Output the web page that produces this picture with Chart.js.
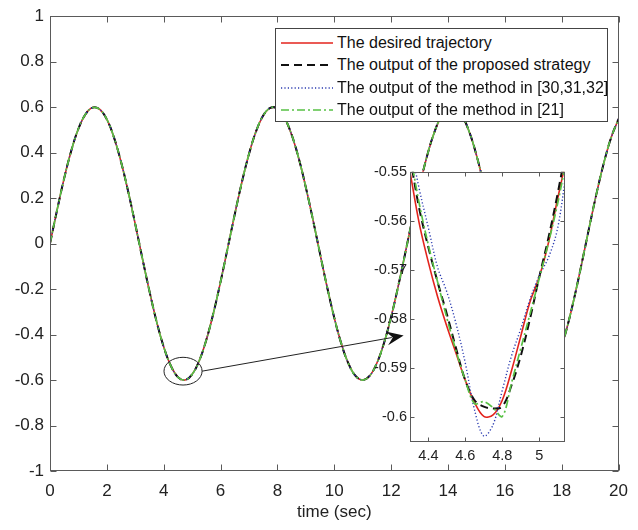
<!DOCTYPE html>
<html>
<head>
<meta charset="utf-8">
<script src="https://cdn.jsdelivr.net/npm/chart.js@4.4.1/dist/chart.umd.min.js"></script>
<style>
html, body { margin: 0; padding: 0; background: #fff; }
#wrap { position: relative; width: 638px; height: 530px; }
#mainChart { position: absolute; left: 0; top: 0; }
#zoomChart { position: absolute; left: 355px; top: 160px; }
#legend { position: absolute; left: 275px; top: 28px; width: 331px; height: 92px; border: 1px solid #444; background: #fff;
  font-family: Arial, "Liberation Sans", sans-serif; font-size: 16px; color: #111; }
.row { position: absolute; left: 0; height: 22px; line-height: 22px; white-space: nowrap; }
.row svg { position: absolute; left: 5px; top: 0; }
.row span { position: absolute; left: 61px; }
</style>
</head>
<body>
<div id="wrap">
  <canvas id="mainChart" width="638" height="530"></canvas>
  <canvas id="zoomChart" width="215" height="312"></canvas>
  <div id="legend"></div>
</div>
<script>
// --- data ---
const mainTime = [0,0.25,0.5,0.75,1,1.25,1.5,1.75,2,2.25,2.5,2.75,3,3.25,3.5,3.75,4,4.25,4.5,4.75,
  5,5.25,5.5,5.75,6,6.25,6.5,6.75,7,7.25,7.5,7.75,8,8.25,8.5,8.75,9,9.25,9.5,9.75,
  10,10.25,10.5,10.75,11,11.25,11.5,11.75,12,12.25,12.5,12.75,13,13.25,13.5,13.75,14,14.25,14.5,14.75,
  15,15.25,15.5,15.75,16,16.25,16.5,16.75,17,17.25,17.5,17.75,18,18.25,18.5,18.75,19,19.25,19.5,19.75,20];
// at full scale the four curves lie on top of each other
const mainValues = [0,0.148,0.288,0.409,0.505,0.569,0.598,0.590,0.546,0.467,
  0.359,0.229,0.085,-0.065,-0.210,-0.343,-0.454,-0.537,-0.587,-0.600,
  -0.575,-0.515,-0.423,-0.305,-0.168,-0.020,0.129,0.270,0.394,0.494,
  0.563,0.597,0.594,0.553,0.479,0.375,0.247,0.105,-0.045,-0.192,
  -0.326,-0.441,-0.528,-0.582,-0.600,-0.581,-0.525,-0.437,-0.322,-0.187,
  -0.040,0.110,0.252,0.379,0.482,0.556,0.594,0.596,0.561,0.491,
  0.390,0.265,0.124,-0.025,-0.173,-0.309,-0.427,-0.518,-0.577,-0.600,
  -0.585,-0.535,-0.451,-0.339,-0.206,-0.060,0.090,0.234,0.363,0.470,0.548];
const xTicks = [0,2,4,6,8,10,12,14,16,18,20];
const yTicks = [-1,-0.8,-0.6,-0.4,-0.2,0,0.2,0.4,0.6,0.8,1];

// zoomed window around the first trough
const zoomTime = [4.30,4.35,4.40,4.45,4.50,4.55,4.60,4.65,4.70,4.75,4.80,4.85,4.90,4.95,5.00,5.05,5.10,5.15];
const zoomDesired  = [-0.5500,-0.5605,-0.5685,-0.5755,-0.5815,-0.5870,-0.5925,-0.5970,-0.5998,-0.5995,-0.5965,-0.5905,-0.5835,-0.5765,-0.5715,-0.5645,-0.5555,-0.5470];
const zoomProposed = [-0.5470,-0.5575,-0.5655,-0.5725,-0.5790,-0.5860,-0.5925,-0.5965,-0.5978,-0.5982,-0.5978,-0.5935,-0.5875,-0.5800,-0.5715,-0.5635,-0.5545,-0.5445];
const zoomMethod30 = [-0.5440,-0.5535,-0.5615,-0.5695,-0.5745,-0.5810,-0.5890,-0.5985,-0.6038,-0.6015,-0.5945,-0.5875,-0.5820,-0.5760,-0.5712,-0.5675,-0.5615,-0.5490];
const zoomMethod21 = [-0.5460,-0.5565,-0.5650,-0.5725,-0.5798,-0.5865,-0.5925,-0.5972,-0.5968,-0.5980,-0.5998,-0.5930,-0.5860,-0.5790,-0.5718,-0.5645,-0.5565,-0.5470];
const zoomXTicks = [4.4,4.6,4.8,5];
const zoomYTicks = [-0.6,-0.59,-0.58,-0.57,-0.56,-0.55];

const seriesNames = ['The desired trajectory', 'The output of the proposed strategy',
  'The output of the method in [30,31,32]', 'The output of the method in [21]'];

// circled region and arrow tip, in data units of the big plot
const markCenter = [4.68, -0.561];
const markRadius = [0.67, 0.061];
const arrowTip = [12.44, -0.404];

// --- styling ---
const FONT = 'Arial, "Liberation Sans", sans-serif';
const styles = [
  { color: '#e3231c', dash: [], width: 1.6 },
  { color: '#111111', dash: [8, 5], width: 2 },
  { color: '#2a3bb0', dash: [1.2, 2.2], width: 1.4 },
  { color: '#57c144', dash: [8, 3, 2, 3], width: 1.7 }
];

const pts = (xs, ys) => xs.map((x, i) => ({ x, y: ys[i] }));
const fmt = v => String(+(+v).toFixed(3));

function makeSets(xs, lists, extra) {
  return lists.map((ys, i) => Object.assign({
    label: seriesNames[i], data: pts(xs, ys),
    borderColor: styles[i].color, borderDash: styles[i].dash, borderWidth: styles[i].width,
    pointRadius: 0, fill: false, order: 3 - i
  }, extra));
}

// MATLAB-like box with inward ticks on all four sides
const boxPlugin = {
  id: 'matlabBox',
  afterDraw(chart, args, opts) {
    const { ctx, chartArea: a, scales: { x, y } } = chart;
    const len = opts.tick || 5;
    ctx.save();
    ctx.strokeStyle = '#5a5a5a';
    ctx.lineWidth = 1;
    const L = Math.round(a.left) + 0.5, R = Math.round(a.right) - 0.5;
    const T = Math.round(a.top) + 0.5, B = Math.round(a.bottom) - 0.5;
    ctx.strokeRect(L, T, R - L, B - T);
    ctx.beginPath();
    x.ticks.forEach(t => {
      const p = Math.round(x.getPixelForValue(t.value)) + 0.5;
      ctx.moveTo(p, B); ctx.lineTo(p, B - len);
      ctx.moveTo(p, T); ctx.lineTo(p, T + len);
    });
    y.ticks.forEach(t => {
      const p = Math.round(y.getPixelForValue(t.value)) + 0.5;
      ctx.moveTo(L, p); ctx.lineTo(L + len, p);
      ctx.moveTo(R, p); ctx.lineTo(R - len, p);
    });
    ctx.stroke();
    ctx.restore();
  }
};

const whiteArea = {
  id: 'whiteArea',
  beforeDraw(chart) {
    const { ctx, chartArea: a } = chart;
    ctx.save();
    ctx.fillStyle = '#fff';
    ctx.fillRect(a.left, a.top, a.right - a.left, a.bottom - a.top);
    ctx.restore();
  }
};

const markPlugin = {
  id: 'zoomMark',
  afterDatasetsDraw(chart) {
    const { ctx, scales: { x, y } } = chart;
    const cx = x.getPixelForValue(markCenter[0]), cy = y.getPixelForValue(markCenter[1]);
    const rx = x.getPixelForValue(markCenter[0] + markRadius[0]) - cx;
    const ry = cy - y.getPixelForValue(markCenter[1] + markRadius[1]);
    const tx = x.getPixelForValue(arrowTip[0]), ty = y.getPixelForValue(arrowTip[1]);
    const sx = cx + rx, sy = cy;
    const ang = Math.atan2(ty - sy, tx - sx);
    const c = Math.cos(ang), s = Math.sin(ang);
    ctx.save();
    ctx.strokeStyle = '#222';
    ctx.lineWidth = 1;
    ctx.beginPath();
    ctx.ellipse(cx, cy, rx, ry, 0, 0, Math.PI * 2);
    ctx.stroke();
    ctx.beginPath();
    ctx.moveTo(sx, sy);
    ctx.lineTo(tx - 12 * c, ty - 12 * s);
    ctx.stroke();
    ctx.fillStyle = '#111';
    ctx.beginPath();
    ctx.moveTo(tx, ty);
    ctx.lineTo(tx - 17 * c - 7 * s, ty - 17 * s + 7 * c);
    ctx.lineTo(tx - 11 * c, ty - 11 * s);
    ctx.lineTo(tx - 17 * c + 7 * s, ty - 17 * s - 7 * c);
    ctx.closePath();
    ctx.fill();
    ctx.restore();
  }
};

function axis(min, max, ticks, size, fontSize, pad, title) {
  const isX = size.h !== undefined;
  return {
    type: 'linear', min, max,
    afterBuildTicks: sc => { sc.ticks = ticks.map(v => ({ value: v })); },
    afterFit: sc => { if (isX) sc.height = size.h; else sc.width = size.w; },
    grid: { display: false, drawTicks: false },
    border: { display: false },
    ticks: { color: '#222', font: { family: FONT, size: fontSize }, padding: pad, maxRotation: 0, autoSkip: false, callback: fmt },
    title: title ? { display: true, text: title, color: '#222', font: { family: FONT, size: 17 }, padding: { top: 0, bottom: 7 } } : { display: false }
  };
}

new Chart(document.getElementById('mainChart'), {
  type: 'line',
  data: { datasets: makeSets(mainTime, [mainValues, mainValues, mainValues, mainValues], { tension: 0.4 }) },
  options: {
    responsive: false, animation: false,
    layout: { padding: { left: 0, top: 15, right: 9, bottom: 0 } },
    plugins: { legend: { display: false }, tooltip: { enabled: false }, matlabBox: { tick: 6 } },
    scales: {
      x: axis(0, 20, xTicks, { h: 59 }, 17, 10, 'time (sec)'),
      y: axis(-1, 1, yTicks, { w: 50 }, 17, 6)
    }
  },
  plugins: [boxPlugin, markPlugin]
});

new Chart(document.getElementById('zoomChart'), {
  type: 'line',
  data: { datasets: makeSets(zoomTime, [zoomDesired, zoomProposed, zoomMethod30, zoomMethod21], { tension: 0.35 }) },
  options: {
    responsive: false, animation: false,
    layout: { padding: { left: 0, top: 9, right: 5, bottom: 0 } },
    plugins: { legend: { display: false }, tooltip: { enabled: false }, matlabBox: { tick: 4 } },
    scales: {
      x: axis(4.3, 5.14, zoomXTicks, { h: 30 }, 14.5, 5),
      y: axis(-0.605, -0.55, zoomYTicks, { w: 55 }, 14.5, 3)
    }
  },
  plugins: [whiteArea, boxPlugin]
});

// legend box, drawn as html on top of the plot
const legend = document.getElementById('legend');
seriesNames.forEach((name, i) => {
  const row = document.createElement('div');
  row.className = 'row';
  row.style.top = (3 + i * 22.4) + 'px';
  const st = styles[i];
  row.innerHTML = `<svg width="54" height="22"><line x1="0" y1="11" x2="52" y2="11" stroke="${st.color}" stroke-width="${st.width}" stroke-dasharray="${st.dash.join(' ')}"/></svg><span>${name}</span>`;
  legend.appendChild(row);
});
</script>
</body>
</html>
